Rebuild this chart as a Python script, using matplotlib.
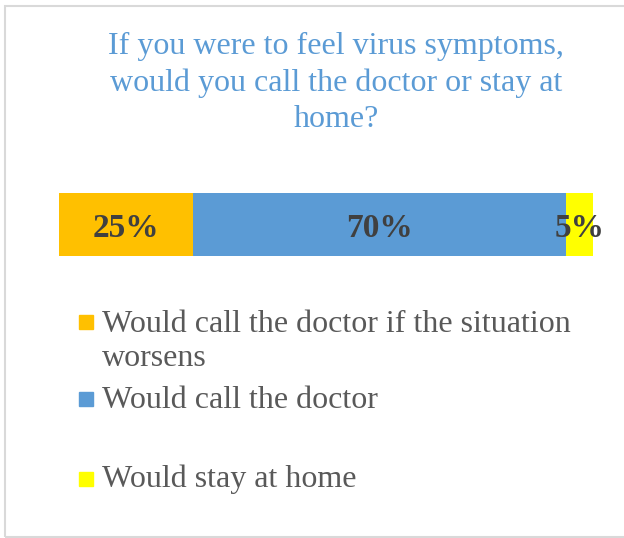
import matplotlib.pyplot as plt
from matplotlib.patches import Rectangle

categories = ["Would call the doctor if the situation\nworsens",
              "Would call the doctor",
              "Would stay at home"]
values = [25, 70, 5]
colors = ["#FFC000", "#5B9BD5", "#FFFF00"]
title = "If you were to feel virus symptoms,\nwould you call the doctor or stay at\nhome?"

W, H = 624, 538
plt.rcParams['font.family'] = ['Liberation Serif', 'DejaVu Serif']

fig = plt.figure(figsize=(W / 100, H / 100), dpi=100)

# outer frame
fig.patches.append(Rectangle((5 / W, 1 / H), 1.2, (H - 7) / H, transform=fig.transFigure,
                             fill=False, edgecolor="#D9D9D9", linewidth=1.5))

# baseline aligns the last line of multi-line text
fig.text(336 / W, 1 - 127 / H, title, ha="center", va="baseline", color="#5B9BD5",
         fontsize=23, linespacing=1.32, multialignment="center")

# stacked bar
ax = fig.add_axes([59 / W, 1 - 256 / H, (593 - 59) / W, 63 / H])
left = 0
for val, col in zip(values, colors):
    ax.barh([0], [val], left=left, height=1, color=col)
    ax.text(left + val / 2, -0.06, f"{val}%", ha="center", va="center", color="#404040",
            fontsize=24, fontweight="bold")
    left += val
ax.set_xlim(0, sum(values))
ax.set_ylim(-0.5, 0.5)
ax.axis("off")

# legend
leg_y = [322, 399, 479]
base_y = [366, 408, 487]
for cat, col, y, b in zip(categories, colors, leg_y, base_y):
    fig.patches.append(Rectangle((79 / W, 1 - (y + 7) / H), 14 / W, 14 / H,
                                 transform=fig.transFigure, color=col))
    fig.text(102 / W, 1 - b / H, cat, ha="left", va="baseline", color="#595959",
             fontsize=23, linespacing=1.22)

fig.savefig("out.png", dpi=100)
